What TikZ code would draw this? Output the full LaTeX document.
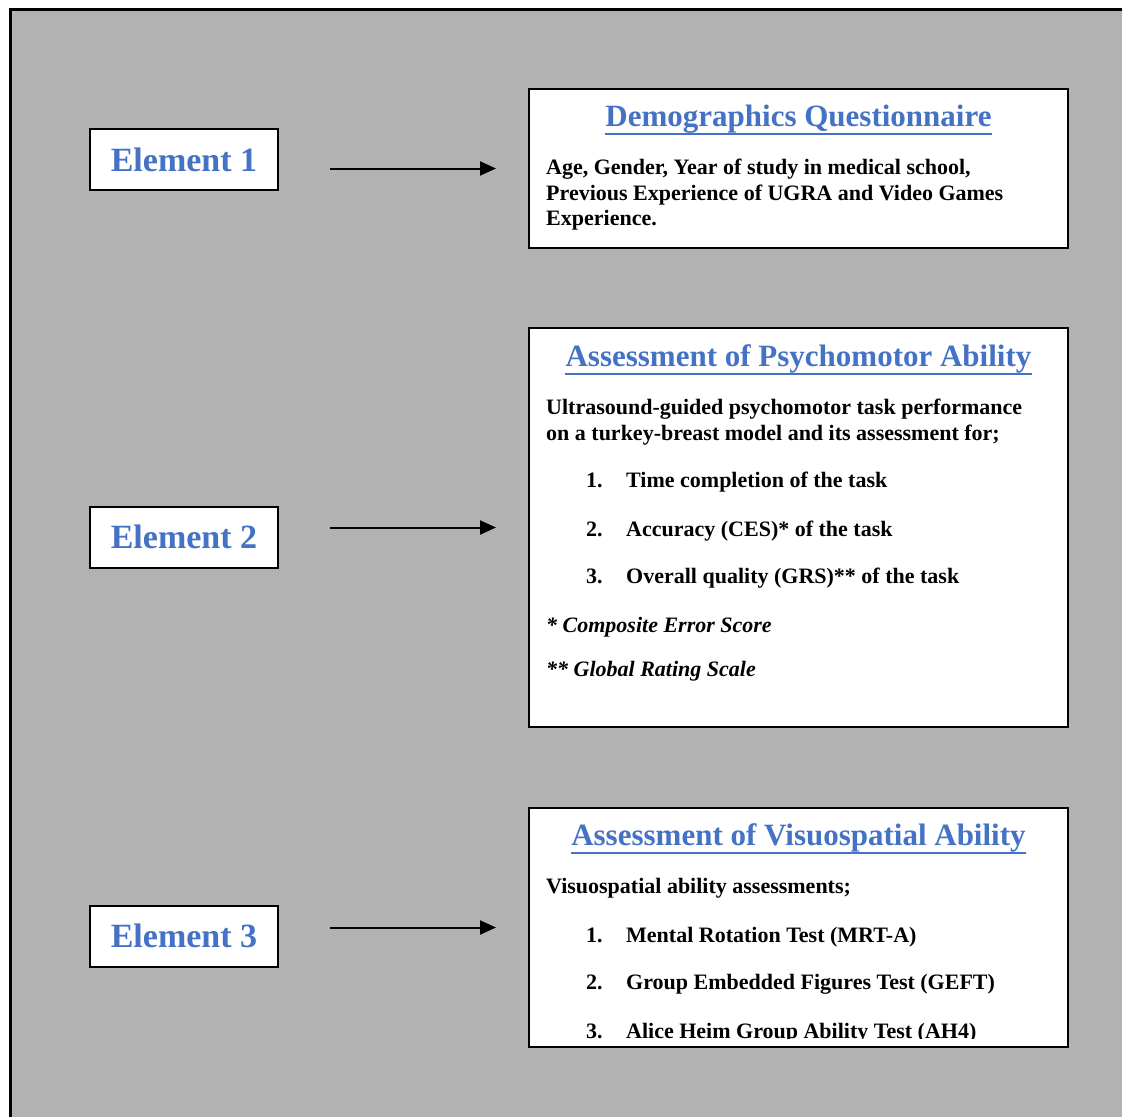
\documentclass[tikz,border=0pt]{standalone}
\usepackage{fontspec}
\setmainfont{Liberation Serif}
\usetikzlibrary{arrows.meta}
\definecolor{hdrblue}{HTML}{4472C4}
\definecolor{bggray}{HTML}{B2B2B2}
\begin{document}
\begin{tikzpicture}[x=1pt,y=-1pt,
 elbox/.style={draw=black, line width=2pt, fill=white, minimum width=188pt, minimum height=61pt, inner sep=0pt, font=\fontsize{34}{40}\selectfont\bfseries, text=hdrblue},
 bigbox/.style={draw=black, line width=2pt, fill=white, inner sep=0pt},
 hdr/.style={anchor=base, inner sep=0pt, font=\fontsize{31}{36}\selectfont\bfseries, text=hdrblue},
 body/.style={anchor=base west, inner sep=0pt, font=\fontsize{22}{26}\selectfont\bfseries},
 note/.style={anchor=base west, inner sep=0pt, font=\fontsize{22}{26}\selectfont\bfseries\itshape},
 uline/.style={draw=hdrblue, line width=2pt},
 conn/.style={draw=black, line width=2pt, -{Triangle[length=16pt,width=14pt]}, shorten <=51pt, shorten >=32pt}
]
\useasboundingbox (0,0) rectangle (1122,1117);
\fill[bggray] (10,9) rectangle (1122,1117);
\draw[black, line width=3pt] (10,1117) -- (10,9) -- (1122,9);

% left element boxes
\node[elbox] (e1) at (184,159.5) {Element 1};
\node[elbox] (e2) at (184,537) {Element 2};
\node[elbox] (e3) at (184,936) {Element 3};

% right boxes
\node[bigbox, minimum width=539pt, minimum height=159pt] (b1) at (798.5,168.5) {};
\node[bigbox, minimum width=539pt, minimum height=399pt] (b2) at (798.5,527.5) {};
\node[bigbox, minimum width=539pt, minimum height=239pt] (b3) at (798.5,927.5) {};

% connectors
\draw[conn] (e1.east |- b1.west) -- (b1.west);
\draw[conn] (e2.east |- b2.west) -- (b2.west);
\draw[conn] (e3.east |- b3.west) -- (b3.west);

% box 1
\node[hdr] (h1) at (798.5,126) {Demographics Questionnaire};
\draw[uline] (h1.west |- 0,134) -- (h1.east |- 0,134);
\node[body] (t11) at (546,174) {Age, Gender, Year of study in medical school,};
\node[body] (t12) at (546,200) {Previous Experience of UGRA and Video Games};
\node[body] (t13) at (546,225) {Experience.};

% box 2
\node[hdr] (h2) at (798.5,366) {Assessment of Psychomotor Ability};
\draw[uline] (h2.west |- 0,374) -- (h2.east |- 0,374);
\node[body] (t21) at (546,414) {Ultrasound-guided psychomotor task performance};
\node[body] (t22) at (546,440) {on a turkey-breast model and its assessment for;};
\node[body] (n21) at (586,487) {1.};
\node[body] (i21) at (626,487) {Time completion of the task};
\node[body] (n22) at (586,536) {2.};
\node[body] (i22) at (626,536) {Accuracy (CES)* of the task};
\node[body] (n23) at (586,583) {3.};
\node[body] (i23) at (626,583) {Overall quality (GRS)** of the task};
\node[note] (f21) at (546,632) {* Composite Error Score};
\node[note] (f22) at (546,676) {** Global Rating Scale};

% box 3
\node[hdr] (h3) at (798.5,845) {Assessment of Visuospatial Ability};
\draw[uline] (h3.west |- 0,853) -- (h3.east |- 0,853);
\node[body] (t31) at (546,893) {Visuospatial ability assessments;};
\node[body] (n31) at (586,942) {1.};
\node[body] (i31) at (626,942) {Mental Rotation Test (MRT-A)};
\node[body] (n32) at (586,989) {2.};
\node[body] (i32) at (626,989) {Group Embedded Figures Test (GEFT)};
\begin{scope}
\clip (540,1000) rectangle (1060,1038.5);
\node[body] (n33) at (586,1038) {3.};
\node[body] (i33) at (626,1038) {Alice Heim Group Ability Test (AH4)};
\end{scope}
\end{tikzpicture}
\end{document}
